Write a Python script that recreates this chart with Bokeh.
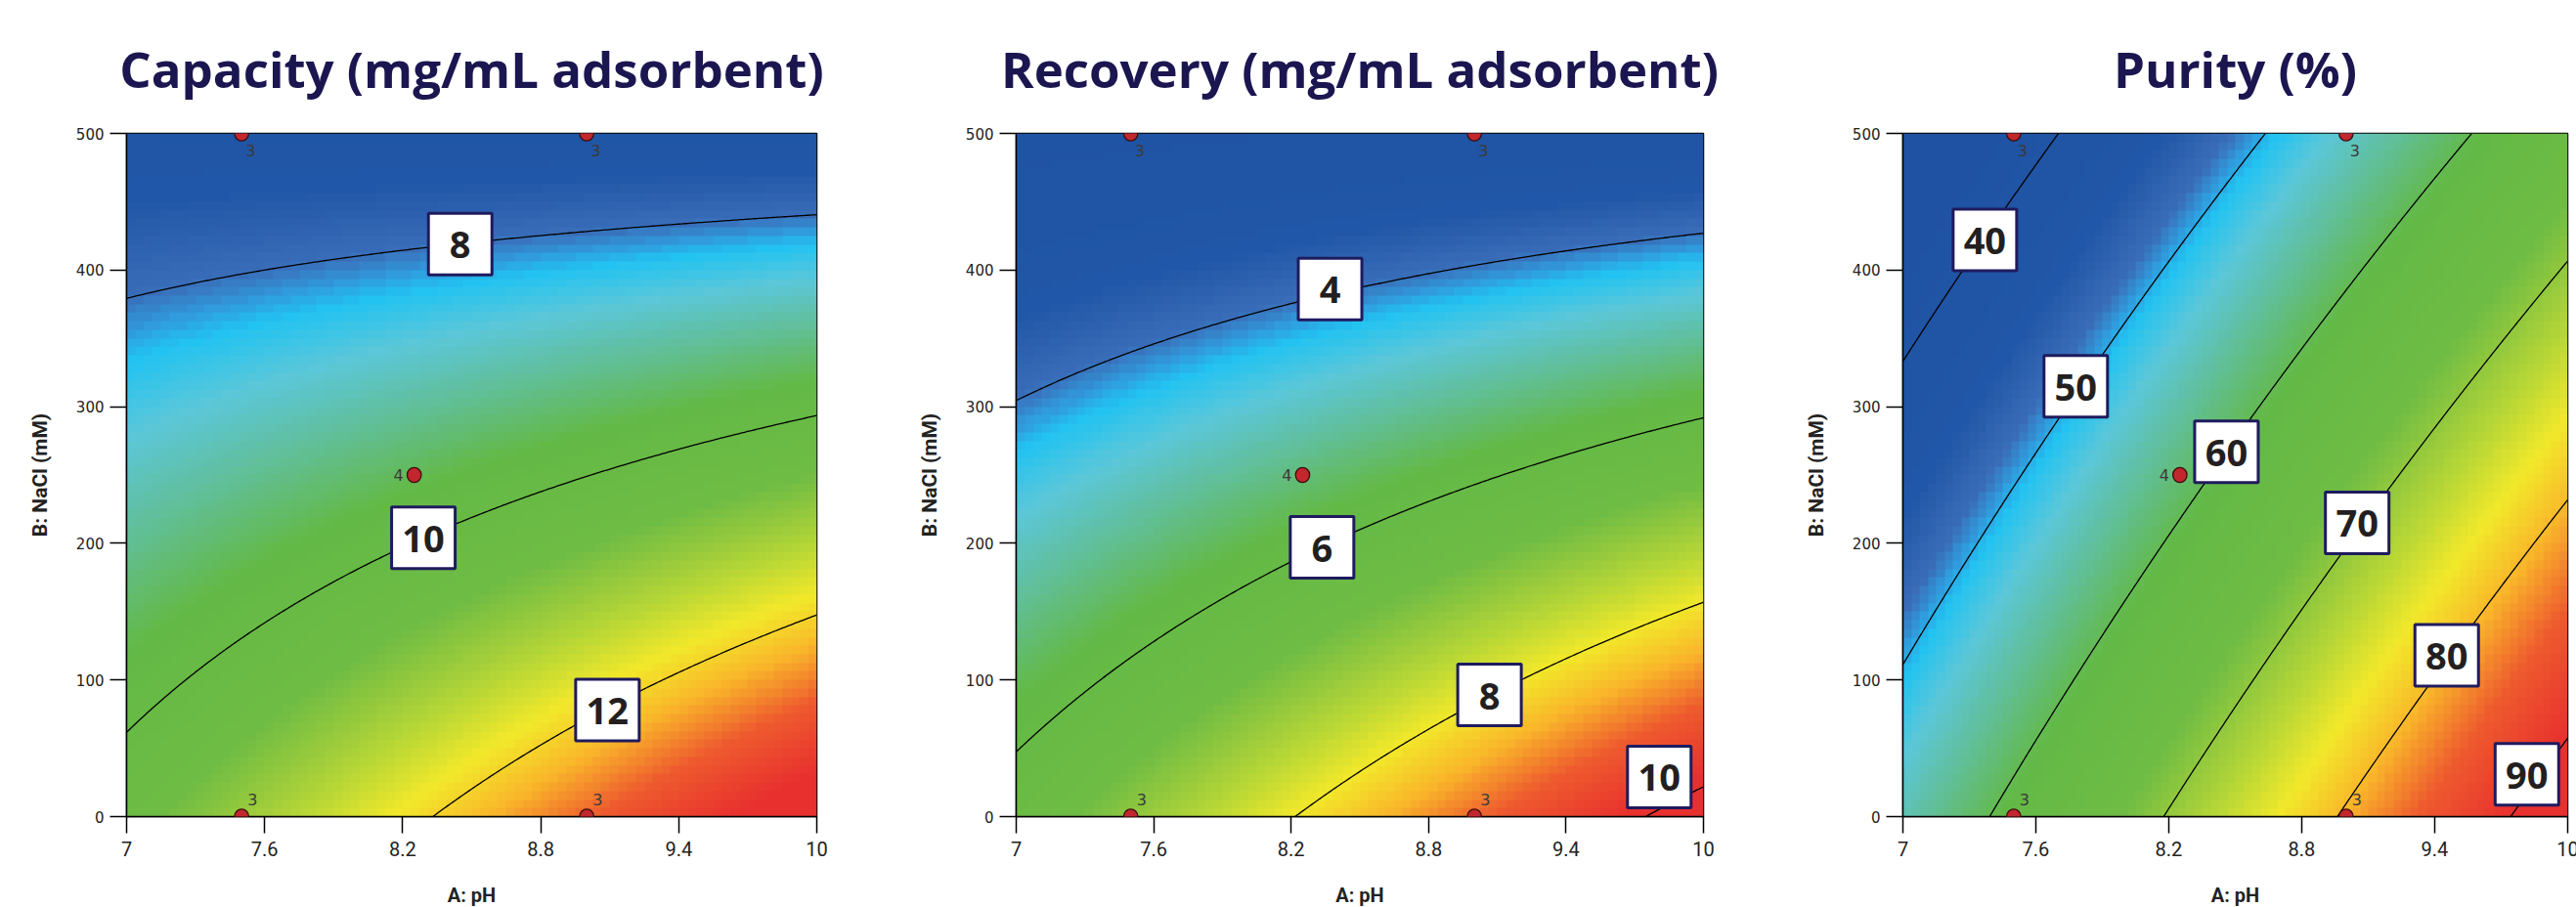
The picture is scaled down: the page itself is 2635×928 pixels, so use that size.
import numpy as np
from bokeh.plotting import figure
from bokeh.layouts import row
from bokeh.models import LinearColorMapper, FixedTicker, Range1d, Label
from bokeh.core.properties import value
from bokeh.embed import file_html
from bokeh.resources import INLINE

# ------------------------------------------------------------------ data
PH_RANGE = [7.0, 10.0]
NACL_RANGE = [0.0, 500.0]
PH_TICKS = [7, 7.6, 8.2, 8.8, 9.4, 10]
PH_TICK_LABELS = ["7", "7.6", "8.2", "8.8", "9.4", "10"]
NACL_TICKS = [0, 100, 200, 300, 400, 500]
X_TITLE = "A: pH"
Y_TITLE = "B: NaCl (mM)"

# design points (pH, NaCl) and replicate counts
design_ph = [7.5, 9.0, 8.25, 7.5, 9.0]
design_nacl = [500, 500, 250, 0, 0]
design_reps = ["3", "3", "4", "3", "3"]

titles = ["Capacity (mg/mL adsorbent)", "Recovery (mg/mL adsorbent)", "Purity (%)"]

# Capacity: points read on the contour lines
cap_levels = [8, 10, 12]
cap_line_ph = [7.0, 7.73, 8.45, 9.4, 10.0, 7.0, 7.73, 8.29, 10.0, 8.32, 8.89, 9.09, 10.0]
cap_line_nacl = [379, 404, 419, 434, 440, 61, 156, 204, 294, 0, 61, 78, 148]
cap_line_val = [8, 8, 8, 8, 8, 10, 10, 10, 10, 12, 12, 12, 12]
cap_label_ph = [8.45, 8.29, 9.09]
cap_label_nacl = [419, 204, 78]
cap_label_text = ["8", "10", "12"]
cap_color_range = [6.4, 13.6]

# Recovery
rec_levels = [4, 6, 8, 10]
rec_line_ph = [7.0, 7.42, 7.85, 8.23, 8.37, 8.985, 10.0,
               7.0, 8.335, 8.985, 10.0,
               8.21, 9.066, 10.0,
               9.74, 10.0]
rec_line_nacl = [305, 337, 359, 375, 382, 403, 427,
                 46, 197, 242, 293,
                 0, 89, 156,
                 0, 21]
rec_line_val = [4, 4, 4, 4, 4, 4, 4, 6, 6, 6, 6, 8, 8, 8, 10, 10]
rec_label_ph = [8.37, 8.335, 9.066, 9.807]
rec_label_nacl = [386, 197, 89, 29]
rec_label_text = ["4", "6", "8", "10"]
rec_color_range = [2.3, 9.9]

# Purity
pur_levels = [40, 50, 60, 70, 80, 90]
pur_line_ph = [7.0, 7.37, 7.71,
               7.0, 7.78, 8.115, 8.63,
               7.39, 8.115, 8.46, 8.54, 9.565,
               8.18, 8.54, 9.11, 9.974,
               8.97, 9.454, 9.59, 9.974,
               9.73]
pur_line_nacl = [332, 422, 500,
                 111, 315, 388, 500,
                 0, 187, 267, 286, 500,
                 0, 91, 215, 401,
                 0, 116, 142, 228,
                 0]
pur_line_val = [40, 40, 40, 50, 50, 50, 50, 60, 60, 60, 60, 60,
                70, 70, 70, 70, 80, 80, 80, 80, 90]
pur_label_ph = [7.37, 7.78, 8.46, 9.05, 9.454, 9.816]
pur_label_nacl = [422, 315, 267, 215, 118, 31]
pur_label_text = ["40", "50", "60", "70", "80", "90"]
pur_color_range = [36.5, 90.0]

# ------------------------------------------------------------------ style
TITLE_COLOR = "#1b1650"
BOX_EDGE = "#1f1b5e"
POINT_FILL = "#c1272d"
POINT_EDGE = "#3d0c0c"
COLOR_STOPS = [(0.00, "#1f52a2"), (0.16, "#2157a8"), (0.22, "#3a6db8"),
               (0.245, "#2f9fe0"), (0.262, "#22c3f1"), (0.31, "#5bc7d9"),
               (0.37, "#61bf9c"), (0.45, "#63b946"), (0.58, "#6fbc44"),
               (0.68, "#b6d636"), (0.75, "#f2e82a"), (0.82, "#f9b62a"),
               (0.90, "#ee5a2e"), (1.00, "#e8302e")]


def build_palette(stops, n=256):
    pos = np.array([s[0] for s in stops])
    cols = np.array([[int(c[i:i + 2], 16) for i in (1, 3, 5)] for _, c in stops], float)
    t = np.linspace(0, 1, n)
    ch = [np.interp(t, pos, cols[:, k]) for k in range(3)]
    return ["#%02x%02x%02x" % tuple(int(round(c[i])) for c in ch) for i in range(n)]


PALETTE = build_palette(COLOR_STOPS)


def design_matrix(ph, nacl):
    a = (np.asarray(ph, float) - 8.5) / 1.5
    b = (np.asarray(nacl, float) - 250.0) / 250.0
    return np.stack([np.ones_like(a), a, b, a * b, a * a, b * b], axis=-1)


def fit(ph, nacl, val):
    coef, *_ = np.linalg.lstsq(design_matrix(ph, nacl), np.asarray(val, float), rcond=None)
    return coef


def surface(coef, ph, nacl):
    return design_matrix(ph, nacl) @ coef


def make_panel(title, line_ph, line_nacl, line_val, levels, lab_ph, lab_nacl, lab_txt,
               crange, frame_w, b_left, b_right):
    coef = fit(line_ph, line_nacl, line_val)
    p = figure(frame_width=frame_w, frame_height=699,
               x_range=Range1d(*PH_RANGE), y_range=Range1d(*NACL_RANGE),
               output_backend="svg", toolbar_location=None,
               min_border_left=b_left, min_border_right=b_right,
               min_border_top=136, min_border_bottom=30, title=title)
    p.title.align = "center"
    p.title.text_font = "Open Sans"
    p.title.text_font_style = "bold"
    p.title.text_font_size = "51px"
    p.title.text_color = TITLE_COLOR
    p.title.standoff = 64
    p.grid.visible = False
    p.outline_line_color = "black"
    p.outline_line_width = 1.5
    p.background_fill_color = "white"
    p.border_fill_color = "white"

    # colour field
    n = 80
    w = PH_RANGE[1] - PH_RANGE[0]
    h = NACL_RANGE[1] - NACL_RANGE[0]
    cx = PH_RANGE[0] + (np.arange(n) + 0.5) * w / n
    cy = NACL_RANGE[0] + (np.arange(n) + 0.5) * h / n
    GX, GY = np.meshgrid(cx, cy)
    mapper = LinearColorMapper(palette=PALETTE, low=crange[0], high=crange[1])
    p.image(image=[surface(coef, GX, GY)], x=PH_RANGE[0], y=NACL_RANGE[0], dw=w, dh=h,
            color_mapper=mapper)

    # contour lines
    fx = np.linspace(PH_RANGE[0], PH_RANGE[1], 301)
    fy = np.linspace(NACL_RANGE[0], NACL_RANGE[1], 301)
    FX, FY = np.meshgrid(fx, fy)
    p.contour(fx, fy, surface(coef, FX, FY), levels, line_color="black", line_width=1.3)

    # contour value boxes
    p.rect(x=lab_ph, y=lab_nacl, width=65, height=63, width_units="screen",
           height_units="screen", fill_color="white", line_color=BOX_EDGE, line_width=3)
    p.text(x=lab_ph, y=lab_nacl, text=lab_txt, text_font=value("Open Sans"),
           text_font_style="bold", text_font_size="38px", text_align="center",
           text_baseline="middle", text_color="#231f20", y_offset=1)

    # design points replicate labels
    top = [i for i in range(len(design_ph)) if design_nacl[i] == NACL_RANGE[1]]
    bot = [i for i in range(len(design_ph)) if design_nacl[i] == NACL_RANGE[0]]
    mid = [i for i in range(len(design_ph)) if i not in top and i not in bot]
    common = dict(text_font=value("DejaVu Sans"), text_font_size="16px",
                  text_color="#3a3a3a", text_baseline="middle")
    p.text(x=[design_ph[i] for i in top], y=[design_nacl[i] for i in top],
           text=[design_reps[i] for i in top], x_offset=4, y_offset=17,
           text_align="left", **common)
    p.text(x=[design_ph[i] for i in bot], y=[design_nacl[i] for i in bot],
           text=[design_reps[i] for i in bot], x_offset=6, y_offset=-18,
           text_align="left", **common)
    p.text(x=[design_ph[i] for i in mid], y=[design_nacl[i] for i in mid],
           text=[design_reps[i] for i in mid], x_offset=-11, y_offset=0,
           text_align="right", **common)
    for xv, yv in zip(design_ph, design_nacl):
        p.add_layout(Label(x=xv, y=yv, text=" ", text_font_size="1px",
                           text_align="center", text_baseline="middle",
                           padding=7, border_radius=8,
                           background_fill_color=POINT_FILL, background_fill_alpha=1.0,
                           border_line_color=POINT_EDGE, border_line_width=1.3))

    # axes
    p.xaxis.ticker = FixedTicker(ticks=PH_TICKS)
    p.xaxis.major_label_overrides = {t: s for t, s in zip(PH_TICKS, PH_TICK_LABELS)}
    p.yaxis.ticker = FixedTicker(ticks=NACL_TICKS)
    for ax in (p.xaxis[0], p.yaxis[0]):
        ax.major_tick_out = 17
        ax.major_tick_in = 0
        ax.minor_tick_out = 0
        ax.minor_tick_in = 0
        ax.axis_line_width = 1.5
        ax.major_tick_line_width = 1.5
        ax.axis_line_color = "black"
        ax.major_tick_line_color = "black"
        ax.major_label_text_color = "#222222"
        ax.axis_label_text_color = "#222222"
        ax.axis_label_text_font_style = "bold"
    p.xaxis.axis_label = X_TITLE
    p.xaxis.major_label_text_font = "Roboto"
    p.xaxis.major_label_text_font_size = "20px"
    p.xaxis.major_label_standoff = 8
    p.xaxis.axis_label_text_font = "Roboto"
    p.xaxis.axis_label_text_font_size = "20px"
    p.xaxis.axis_label_standoff = 25
    p.yaxis.axis_label = Y_TITLE
    p.yaxis.major_label_text_font = "DejaVu Sans"
    p.yaxis.major_label_text_font_size = "15px"
    p.yaxis.major_label_standoff = 6
    p.yaxis.axis_label_text_font = "Roboto"
    p.yaxis.axis_label_text_font_size = "21px"
    p.yaxis.axis_label_standoff = 22
    return p


p1 = make_panel(titles[0], cap_line_ph, cap_line_nacl, cap_line_val, cap_levels,
                cap_label_ph, cap_label_nacl, cap_label_text, cap_color_range, 706, 129, 100)
p2 = make_panel(titles[1], rec_line_ph, rec_line_nacl, rec_line_val, rec_levels,
                rec_label_ph, rec_label_nacl, rec_label_text, rec_color_range, 703, 100, 100)
p3 = make_panel(titles[2], pur_line_ph, pur_line_nacl, pur_line_val, pur_levels,
                pur_label_ph, pur_label_nacl, pur_label_text, pur_color_range, 680, 101, 14)

layout = row(p1, p2, p3)
open("out.html", "w").write(file_html(layout, INLINE))
